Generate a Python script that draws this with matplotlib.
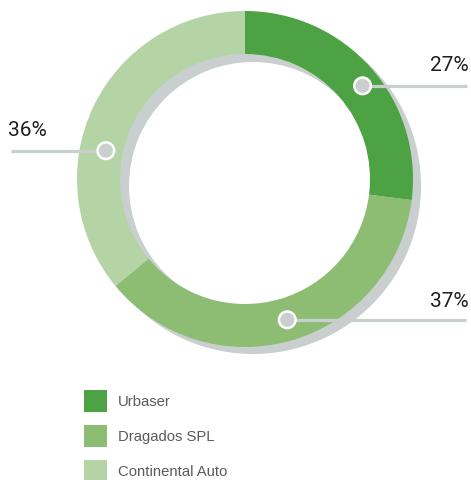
import matplotlib
matplotlib.use("Agg")
import matplotlib.pyplot as plt
from matplotlib.patches import Wedge, Circle, Rectangle
import numpy as np

# Data
categories = ["Urbaser", "Dragados SPL", "Continental Auto"]
values = [27, 37, 36]
pct_labels = ["27%", "37%", "36%"]
colors = ["#4da244", "#8dbd73", "#b5d4a6"]

# Layout (pixel coords, y up)
W, H = 471, 481
fig = plt.figure(figsize=(W / 100, H / 100), dpi=100)
ax = fig.add_axes([0, 0, 1, 1])

grey = "#c9cfcf"
cx, cy = 245, H - 180
R, width = 168, 43

# shadow ring
ax.add_patch(Wedge((cx + 8, cy - 7), R, 0, 360, width=width + 1,
                   facecolor=grey, edgecolor="none", zorder=0))

ax.pie(values, colors=colors, startangle=90, counterclock=False,
       radius=R, center=(cx, cy), frame=True,
       wedgeprops=dict(width=width, edgecolor="none", linewidth=0))

# label markers: angle (deg), radius, line end x, label anchor
marker_angles = [38.4, -73.3, 168.5]
marker_radii = [150, 147, 142]
line_ends = [467, 466, 11]
text_pos = [(469, H - 71, "right"), (469, H - 307, "right"), (8, H - 136, "left")]

for i in range(len(values)):
    a = np.deg2rad(marker_angles[i])
    mx = cx + marker_radii[i] * np.cos(a)
    my = cy + marker_radii[i] * np.sin(a)
    ax.plot([mx, line_ends[i]], [my, my], color=grey, lw=2.3,
            solid_capstyle="butt", zorder=3)
    ax.add_patch(Circle((mx, my), 8.3, facecolor=grey, edgecolor="white",
                        lw=1.8, zorder=4))
    tx, ty, ha = text_pos[i]
    ax.text(tx, ty, pct_labels[i], ha=ha, va="baseline", fontsize=15,
            color="#1e1e1e",
            family=["Roboto", "DejaVu Sans"],
            zorder=5)

# legend
for i, name in enumerate(categories):
    top = 391 + 35 * i
    ax.add_patch(Rectangle((84, H - top - 22), 23, 22, facecolor=colors[i],
                           edgecolor="none"))
    ax.text(118, H - top - 11.5, name, ha="left", va="center", fontsize=10.7,
            color="#5a5b5d", family=["Liberation Sans", "DejaVu Sans"])

ax.set_xlim(0, W)
ax.set_ylim(0, H)
ax.set_aspect("auto")
ax.axis("off")

fig.savefig("out.png", dpi=100)
